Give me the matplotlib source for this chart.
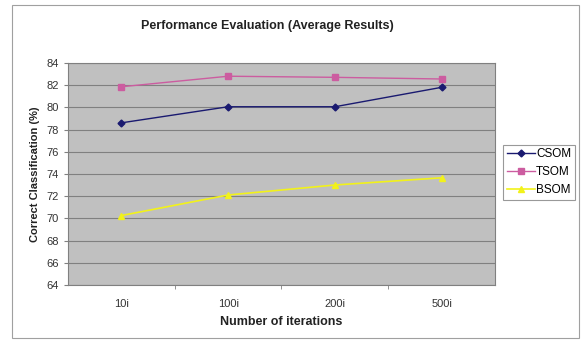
import numpy as np
import matplotlib
matplotlib.use('Agg')
import matplotlib.pyplot as plt

plt.rcParams['font.family'] = ['Liberation Sans', 'DejaVu Sans']

iterations = ['10i', '100i', '200i', '500i']
csom = [78.6, 80.05, 80.05, 81.8]
tsom = [81.85, 82.8, 82.7, 82.55]
bsom = [70.25, 72.1, 73.0, 73.65]

fig = plt.figure(figsize=(5.81, 3.40), dpi=100)
# outer chart border
fig.patches.append(plt.Rectangle((0.02, 0.005), 0.976, 0.98, transform=fig.transFigure,
                                 fill=False, edgecolor='#a0a0a0', linewidth=0.8))

ax = fig.add_axes([0.117, 0.162, 0.735, 0.653])
ax.set_facecolor('#c0c0c0')

x = np.arange(len(iterations))
ax.plot(x, csom, color='#1a1a70', marker='D', markersize=3.5, linewidth=1, label='CSOM')
ax.plot(x, tsom, color='#cc5ca0', marker='s', markersize=4, linewidth=1, label='TSOM')
ax.plot(x, bsom, color='#f2f21a', marker='^', markersize=4, linewidth=1.2, label='BSOM')

ax.set_xlim(-0.5, 3.5)
ax.set_ylim(64, 84)
ax.set_yticks(np.arange(64, 85, 2))
ax.set_xticks(x)
ax.set_xticklabels(iterations)
ax.set_xticks([0.5, 1.5, 2.5], minor=True)
ax.tick_params(axis='x', which='major', length=0, pad=10, labelsize=8, colors='#333333')
ax.tick_params(axis='x', which='minor', length=3, color='#808080')
ax.tick_params(axis='y', length=3, labelsize=8, colors='#333333', color='#808080')
ax.yaxis.grid(True, color='#808080', linewidth=0.8)
ax.set_axisbelow(True)
for s in ax.spines.values():
    s.set_color('#808080')
    s.set_linewidth(0.8)

fig.text(0.461, 0.924, 'Performance Evaluation (Average Results)', fontsize=9, fontweight='bold',
         color='#222222', ha='center', va='center')
ax.set_xlabel('Number of iterations', fontsize=9, fontweight='bold', color='#222222', labelpad=5)
ax.set_ylabel('Correct Classification (%)', fontsize=8, fontweight='bold', color='#222222', labelpad=5)

leg = fig.legend(loc='upper left', bbox_to_anchor=(0.866, 0.574), fontsize=8.5,
                 frameon=True, fancybox=False, edgecolor='#808080', borderpad=0.3,
                 handlelength=2.4, handletextpad=0.1, labelspacing=0.5, borderaxespad=0)
leg.get_frame().set_linewidth(0.8)

fig.savefig('out.png', dpi=100)
